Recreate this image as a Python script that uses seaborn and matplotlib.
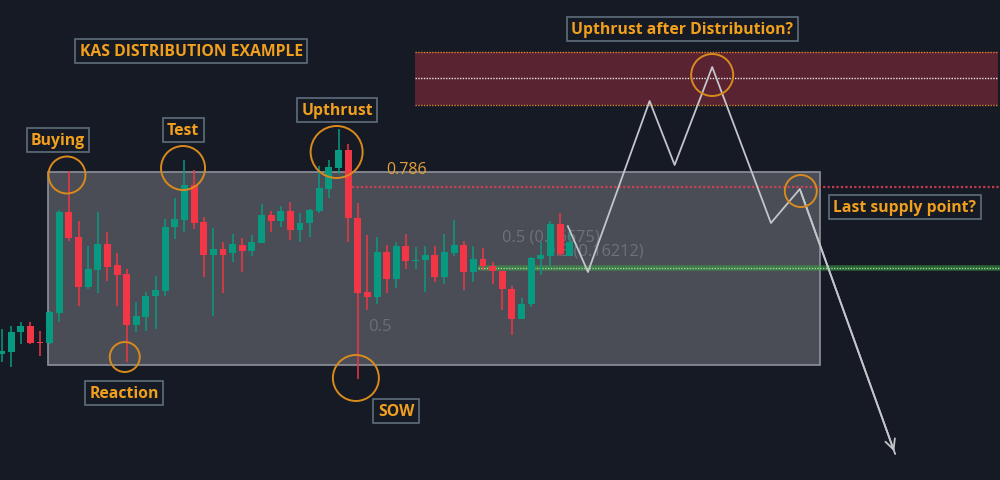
import numpy as np
import pandas as pd
import seaborn as sns
import matplotlib
matplotlib.use("Agg")
import matplotlib.pyplot as plt
from matplotlib.patches import Rectangle, Ellipse

# candle data (price units, one bar per index)
opens = [145, 147, 167, 173, 157, 156, 186, 287, 262, 212, 229, 255, 234, 225, 174, 182, 203, 208, 272, 279,
         314, 277, 244, 250, 246, 254, 248, 256, 284, 278, 288, 269, 276, 288, 310, 331, 349, 281, 207, 202,
         247, 220, 253, 238, 239, 244, 222, 246, 254, 227, 240, 233, 228, 210, 180, 195, 240, 243, 275, 243]
highs = [170, 173, 177, 177, 168, 188, 289, 328, 278, 253, 287, 267, 246, 230, 197, 207, 223, 280, 301, 339,
         329, 282, 271, 257, 265, 261, 264, 295, 288, 293, 297, 286, 290, 333, 339, 370, 355, 296, 264, 262,
         254, 257, 265, 252, 253, 253, 265, 279, 258, 253, 251, 237, 228, 213, 201, 242, 257, 278, 286, 270]
lows = [137, 132, 155, 155, 143, 155, 177, 258, 193, 210, 206, 218, 193, 137, 167, 168, 170, 203, 260, 267,
        270, 222, 183, 206, 237, 227, 243, 256, 267, 272, 259, 257, 262, 286, 301, 325, 257, 120, 189, 195,
        206, 211, 230, 230, 207, 217, 215, 243, 209, 217, 229, 215, 189, 164, 180, 192, 224, 233, 243, 243]
closes = [148, 167, 173, 156, 156, 187, 287, 261, 212, 230, 255, 232, 224, 174, 183, 203, 209, 272, 280, 314,
          276, 244, 250, 244, 255, 248, 257, 284, 278, 288, 269, 276, 289, 311, 332, 349, 281, 206, 202, 247,
          220, 253, 238, 239, 244, 222, 247, 254, 227, 240, 233, 228, 210, 180, 195, 241, 244, 275, 245, 257]

# projected path after the last candle
path_x = [58.8, 60.9, 67.3, 69.9, 73.8, 79.9, 82.9, 92.8]
path_y = [273, 227, 398, 334, 432, 276, 310, 45]

# levels
range_box = (4.83, 85.0, 134, 327)
zone_box = (42.94, 103.5, 394, 447)
zone_mid = 421
fib_786 = (36.4, 312)
fib_green = (49.5, 231)

labels = ["KAS DISTRIBUTION EXAMPLE", "Buying", "Test", "Reaction", "Upthrust", "SOW",
          "Upthrust after Distribution?", "Last supply point?"]
label_pos = [(19.7, 448), (5.87, 359), (18.85, 369), (12.72, 106), (34.84, 389), (40.97, 88),
             (70.7, 470), (93.8, 292)]
circles = [(6.8, 324, 18.5), (18.85, 331, 22), (12.8, 142, 15), (34.8, 347, 26), (36.8, 121, 23),
           (73.8, 424, 21), (83.0, 308, 16)]

BG = "#161a25"
UP = "#089981"
DOWN = "#f23645"
ORANGE = "#f0a01c"
PX = 9.63  # pixels per bar

sns.set_theme(style="dark")
plt.rcParams["font.family"] = ["Open Sans", "DejaVu Sans"]

df = pd.DataFrame({"open": opens, "high": highs, "low": lows, "close": closes})
df["x"] = np.arange(len(df))
df["up"] = df["close"] >= df["open"]

fig = plt.figure(figsize=(10, 4.81), dpi=100, facecolor=BG)
ax = fig.add_axes([0, 0, 1, 1])
ax.set_facecolor(BG)
ax.set_xlim(-1.5 / PX, 998.5 / PX)
ax.set_ylim(19, 500)
ax.axis("off")

# range box
x0, x1, y0, y1 = range_box
ax.add_patch(Rectangle((x0, y0), x1 - x0, y1 - y0, fc="#4a4d55", ec="#8e9199", lw=1.2, zorder=1))

# upper supply zone
x0, x1, y0, y1 = zone_box
ax.add_patch(Rectangle((x0, y0), x1 - x0, y1 - y0, fc="#5a2332", ec="none", zorder=1))
ax.hlines([y0, y1], x0, x1, colors="#d9822b", lw=1, linestyles=(0, (1, 1)), zorder=2)
ax.hlines(zone_mid, x0, x1, colors="#e8e8e8", lw=1, linestyles=(0, (1, 1)), zorder=2)

# fib levels
ax.hlines(fib_786[1], fib_786[0], 104, colors="#e0415a", lw=1.6, linestyles=(0, (1, 1)), alpha=0.85, zorder=2)
ax.hlines(fib_green[1], fib_green[0], 104, colors="#3f9f45", lw=4, alpha=0.55, zorder=2)
ax.hlines(fib_green[1], fib_green[0], 104, colors="#8fe08f", lw=1, linestyles=(0, (1, 1)), zorder=2)
ax.text(42.1, 330, "0.786", color="#e3a03a", fontsize=11.5, ha="center", va="center", zorder=2)
ax.text(39.3, 173, "0.5", color="#6b6e75", fontsize=12, ha="center", va="center", zorder=2)
ax.text(52.0, 262, "0.5 (0.16675)", color="#6e7178", fontsize=11.8, ha="left", va="center", zorder=2)
ax.text(56.5, 248, "0.5 (0.16212)", color="#6e7178", fontsize=11.8, ha="left", va="center", zorder=2)

# candles
colors = np.where(df["up"], UP, DOWN)
ax.vlines(df["x"], df["low"], df["high"], colors=colors, lw=1.1, zorder=3)
bottoms = np.minimum(df["open"], df["close"])
heights = np.maximum(np.abs(df["close"] - df["open"]), 1.5)
ax.bar(df["x"], heights, bottom=bottoms, width=0.72, color=colors, lw=0, zorder=4)

# projected path
path = pd.DataFrame({"x": path_x, "y": path_y})
sns.lineplot(data=path, x="x", y="y", sort=False, color="#c3c5ca", lw=1.3, ax=ax, zorder=6)
ax.annotate("", xy=(path_x[-1], path_y[-1]), xytext=(path_x[-2], path_y[-2]),
            arrowprops=dict(arrowstyle="->", color="#c3c5ca", lw=1.3, mutation_scale=18), zorder=6)

# circles
for cx, cy, r in circles:
    ax.add_patch(Ellipse((cx, cy), 2 * r / PX, 2 * r, fill=False, ec="#d98a1c", lw=1.4, zorder=7))

# labels
for text, (lx, ly) in zip(labels, label_pos):
    ax.text(lx, ly, text, color=ORANGE, fontsize=11.3, fontweight="bold", ha="center", va="center", zorder=8,
            bbox=dict(boxstyle="square,pad=0.28", fc=BG, ec="#5f6d7c", lw=1.2))

fig.savefig("out.png", dpi=100, facecolor=BG)
